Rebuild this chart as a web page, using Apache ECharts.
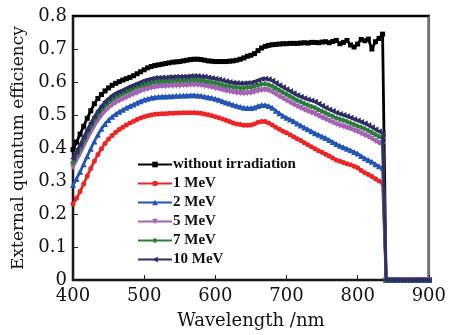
<!DOCTYPE html>
<html>
<head>
<meta charset="utf-8">
<script src="https://cdn.jsdelivr.net/npm/echarts@6/dist/echarts.min.js"></script>
<style>html,body{margin:0;padding:0;background:#fff}#c{width:449px;height:335px}</style>
</head>
<body>
<div id="c"></div>
<script>
// wavelengths (nm)
const wavelengths = [400,405,410,415,420,425,430,435,440,445,450,455,460,465,470,475,480,485,490,495,
500,505,510,515,520,525,530,535,540,545,550,555,560,565,570,575,580,585,590,595,
600,605,610,615,620,625,630,635,640,645,650,655,660,665,670,675,680,685,690,695,
700,705,710,715,720,725,730,735,740,745,750,755,760,765,770,775,780,785,790,795,
800,805,810,815,820,825,830,835,840,845,850,855,860,865,870,875,880,885,890,895,900];

const tail = [0,0,0,0,0,0,0,0,0,0,0,0,0]; // 840..900 nm

const noIrr = [0.395,0.418,0.442,0.466,0.490,0.513,0.534,0.550,0.562,0.573,0.582,0.590,0.596,0.601,0.606,0.610,0.614,0.619,0.625,0.631,
0.637,0.643,0.647,0.650,0.652,0.654,0.656,0.658,0.660,0.661,0.662,0.664,0.666,0.668,0.669,0.669,0.668,0.666,0.664,0.663,
0.662,0.662,0.662,0.662,0.663,0.664,0.666,0.669,0.673,0.678,0.681,0.686,0.695,0.703,0.708,0.711,0.713,0.714,0.715,0.716,
0.716,0.717,0.717,0.717,0.718,0.719,0.718,0.720,0.720,0.719,0.721,0.722,0.719,0.723,0.726,0.716,0.720,0.726,0.712,0.706,
0.715,0.729,0.725,0.730,0.700,0.722,0.732,0.745];

const mev1 = [0.230,0.248,0.268,0.291,0.315,0.338,0.360,0.380,0.398,0.414,0.427,0.438,0.448,0.456,0.463,0.470,0.476,0.481,0.486,0.491,
0.495,0.498,0.500,0.502,0.503,0.504,0.504,0.505,0.505,0.506,0.506,0.507,0.507,0.507,0.507,0.506,0.505,0.503,0.501,0.498,
0.495,0.492,0.488,0.484,0.480,0.476,0.473,0.471,0.469,0.469,0.470,0.473,0.478,0.480,0.480,0.476,0.470,0.463,0.457,0.451,
0.446,0.440,0.434,0.428,0.423,0.416,0.410,0.404,0.398,0.392,0.387,0.381,0.376,0.370,0.364,0.360,0.356,0.352,0.349,0.345,
0.340,0.332,0.325,0.320,0.314,0.307,0.300,0.294];

const mev2 = [0.288,0.307,0.328,0.351,0.375,0.398,0.420,0.440,0.458,0.473,0.485,0.495,0.503,0.510,0.516,0.522,0.527,0.532,0.537,0.542,
0.546,0.549,0.552,0.554,0.555,0.556,0.556,0.557,0.557,0.558,0.558,0.559,0.559,0.560,0.560,0.559,0.558,0.556,0.554,0.552,
0.549,0.546,0.542,0.538,0.535,0.531,0.528,0.525,0.522,0.521,0.521,0.523,0.527,0.530,0.530,0.527,0.522,0.513,0.505,0.498,
0.492,0.486,0.481,0.474,0.468,0.462,0.457,0.451,0.445,0.440,0.435,0.430,0.424,0.418,0.412,0.407,0.402,0.398,0.393,0.388,
0.383,0.376,0.369,0.364,0.358,0.351,0.345,0.340];

const mev5 = [0.342,0.362,0.382,0.404,0.426,0.447,0.466,0.483,0.498,0.511,0.521,0.530,0.537,0.543,0.548,0.553,0.558,0.563,0.567,0.572,
0.576,0.579,0.582,0.584,0.586,0.587,0.587,0.588,0.588,0.589,0.589,0.590,0.590,0.591,0.591,0.591,0.590,0.588,0.586,0.584,
0.581,0.579,0.576,0.573,0.571,0.569,0.567,0.566,0.565,0.566,0.567,0.570,0.573,0.575,0.576,0.574,0.570,0.563,0.556,0.550,
0.544,0.538,0.532,0.526,0.521,0.516,0.511,0.507,0.503,0.497,0.492,0.487,0.482,0.477,0.472,0.468,0.465,0.461,0.458,0.453,
0.449,0.444,0.439,0.434,0.428,0.421,0.415,0.410];

const mev7 = [0.356,0.377,0.398,0.421,0.443,0.464,0.483,0.500,0.515,0.528,0.538,0.547,0.554,0.560,0.565,0.570,0.575,0.580,0.584,0.588,
0.592,0.595,0.598,0.600,0.601,0.602,0.602,0.603,0.603,0.604,0.604,0.605,0.605,0.606,0.606,0.606,0.605,0.603,0.601,0.599,
0.597,0.595,0.592,0.589,0.587,0.585,0.583,0.582,0.582,0.583,0.584,0.587,0.590,0.593,0.594,0.592,0.588,0.581,0.575,0.569,
0.563,0.557,0.551,0.545,0.540,0.535,0.530,0.526,0.522,0.516,0.511,0.506,0.501,0.496,0.491,0.487,0.484,0.480,0.476,0.471,
0.467,0.463,0.458,0.453,0.447,0.441,0.435,0.430];

const mev10 = [0.368,0.389,0.410,0.433,0.455,0.476,0.495,0.512,0.527,0.540,0.550,0.559,0.566,0.571,0.576,0.581,0.586,0.591,0.595,0.600,
0.604,0.607,0.610,0.612,0.613,0.614,0.614,0.615,0.615,0.616,0.616,0.617,0.617,0.618,0.618,0.618,0.617,0.616,0.614,0.612,
0.610,0.608,0.605,0.602,0.600,0.598,0.597,0.596,0.596,0.597,0.598,0.601,0.605,0.609,0.610,0.608,0.604,0.597,0.590,0.584,
0.578,0.572,0.566,0.560,0.555,0.551,0.547,0.544,0.540,0.534,0.528,0.522,0.517,0.512,0.507,0.503,0.500,0.496,0.492,0.487,
0.483,0.479,0.474,0.469,0.463,0.456,0.450,0.445];

const seriesNames = ['without irradiation','1 MeV','2 MeV','5 MeV','7 MeV','10 MeV'];
const seriesValues = [noIrr, mev1, mev2, mev5, mev7, mev10];
const seriesColors = ['#000000','#ee2424','#2356b4','#a562b6','#2d7d3c','#2e2e66'];
const seriesSymbols = ['rect','circle','triangle','triangle','diamond','triangle'];
const symbolRotations = [0,0,0,180,0,90];
const symbolSizes = [5,5,6,6,6,6];

const yTicks = [0,0.1,0.2,0.3,0.4,0.5,0.6,0.7,0.8];
const xTicks = [400,500,600,700,800,900];

function pairs(vals){
  const all = vals.concat(tail);
  return wavelengths.map((w,i)=>[w, all[i]]);
}

const serif = 'DejaVu Serif';
const chart = echarts.init(document.getElementById('c'));
chart.setOption({
  animation:false,
  grid:{left:73,right:15,top:16,bottom:50,show:true,borderColor:'#000',borderWidth:2.5},
  legend:{
    data:seriesNames,
    orient:'vertical',
    left:132, top:151,
    itemWidth:34, itemHeight:7, itemGap:2,
    textStyle:{fontFamily:'Liberation Serif',fontWeight:'bold',fontSize:15,lineHeight:17,color:'#111',padding:[0,0,0,-4]}
  },
  xAxis:{
    type:'value', min:xTicks[0], max:xTicks[xTicks.length-1], interval:100,
    name:'Wavelength /nm', nameLocation:'middle', nameGap:32,
    nameTextStyle:{fontFamily:serif,fontSize:18,color:'#111'},
    axisLine:{onZero:false,lineStyle:{color:'#222',width:1.5}},
    axisTick:{inside:true,length:5,lineStyle:{color:'#222'}},
    axisLabel:{fontFamily:serif,fontSize:18,color:'#111',margin:7},
    splitLine:{show:false}
  },
  yAxis:[{
    type:'value', min:yTicks[0], max:yTicks[yTicks.length-1], interval:0.1,
    name:'External quantum efficiency', nameLocation:'middle', nameGap:46,
    nameTextStyle:{fontFamily:serif,fontSize:17,color:'#111'},
    axisLine:{show:true,onZero:false,lineStyle:{color:'#222',width:1.5}},
    axisTick:{show:true,inside:true,length:5,lineStyle:{color:'#222'}},
    axisLabel:{fontFamily:serif,fontSize:18,color:'#111',margin:6},
    splitLine:{show:false}
  },{
    type:'value', position:'right', min:0, max:0.8,
    axisLine:{show:true,onZero:false,lineStyle:{color:'#999',width:1.5}},
    axisTick:{show:false}, axisLabel:{show:false}, splitLine:{show:false}
  }],
  series: seriesNames.map((n,i)=>({
    name:n, type:'line',
    data:pairs(seriesValues[i]),
    symbol:seriesSymbols[i], symbolSize:symbolSizes[i], symbolRotate:symbolRotations[i],
    showAllSymbol:true,
    lineStyle:{color:seriesColors[i],width:2.8},
    itemStyle:{color:seriesColors[i],borderWidth:0},
    z: 2+i
  }))
});
// top frame line, positioned through the chart's own scales
const pL = chart.convertToPixel({xAxisIndex:0,yAxisIndex:0},[xTicks[0], yTicks[yTicks.length-1]]);
const pR = chart.convertToPixel({xAxisIndex:0,yAxisIndex:0},[xTicks[xTicks.length-1], yTicks[yTicks.length-1]]);
chart.setOption({graphic:[{type:'rect',z:100,silent:true,shape:{x:pL[0],y:pL[1]-1,width:pR[0]-pL[0],height:2},style:{fill:'#000'}}]});
</script>
</body>
</html>
